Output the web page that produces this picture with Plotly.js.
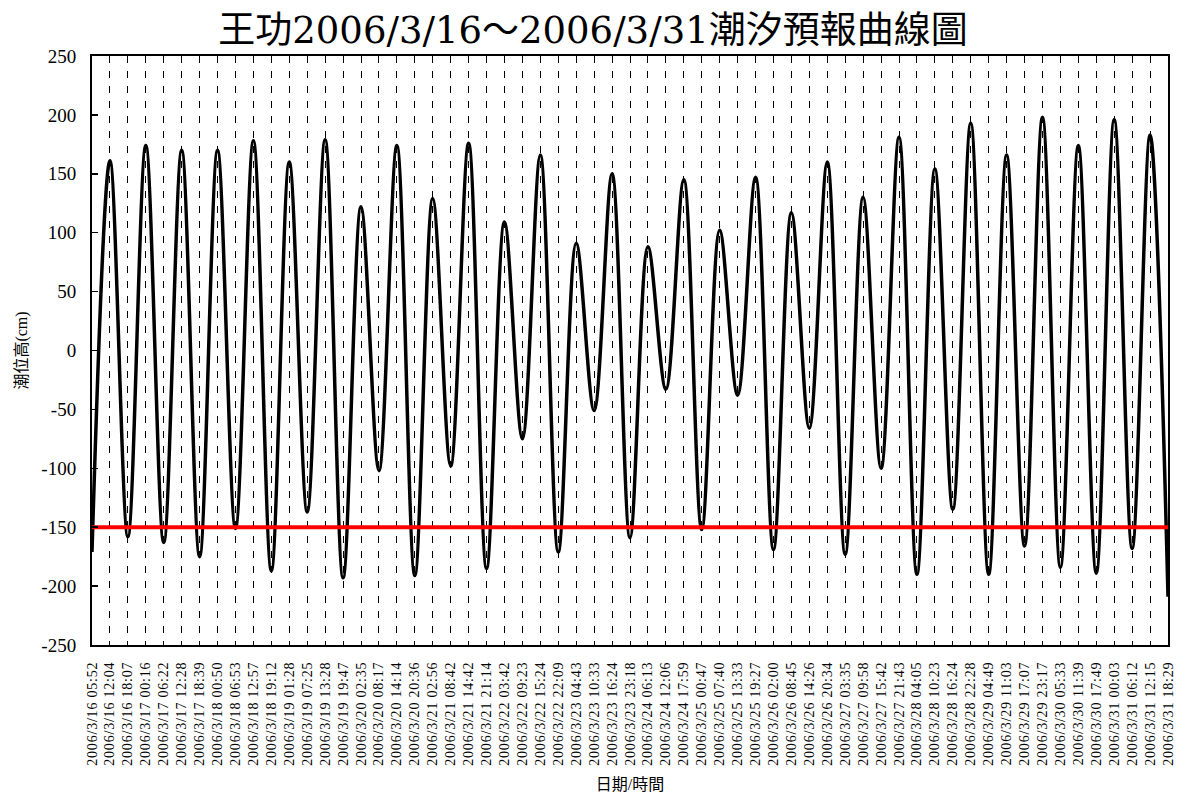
<!DOCTYPE html>
<html>
<head>
<meta charset="utf-8">
<script src="https://cdn.plot.ly/plotly-3.0.1.min.js"></script>
<style>
  html, body { margin: 0; padding: 0; background: #fff; }
  #chart { width: 1186px; height: 798px; }
  .xtick text { letter-spacing: 0.8px; }
</style>
</head>
<body>
<div id="chart"></div>
<script>
// Tide-table times (high / low water) used as the axis labels
const tickLabels = [
  "2006/3/16 05:52", "2006/3/16 12:04", "2006/3/16 18:07",
  "2006/3/17 00:16", "2006/3/17 06:22", "2006/3/17 12:28", "2006/3/17 18:39",
  "2006/3/18 00:50", "2006/3/18 06:53", "2006/3/18 12:57", "2006/3/18 19:12",
  "2006/3/19 01:28", "2006/3/19 07:25", "2006/3/19 13:28", "2006/3/19 19:47",
  "2006/3/20 02:35", "2006/3/20 08:17", "2006/3/20 14:14", "2006/3/20 20:36",
  "2006/3/21 02:56", "2006/3/21 08:42", "2006/3/21 14:42", "2006/3/21 21:14",
  "2006/3/22 03:42", "2006/3/22 09:23", "2006/3/22 15:24", "2006/3/22 22:09",
  "2006/3/23 04:43", "2006/3/23 10:33", "2006/3/23 16:24", "2006/3/23 23:18",
  "2006/3/24 06:13", "2006/3/24 12:06", "2006/3/24 17:59",
  "2006/3/25 00:47", "2006/3/25 07:40", "2006/3/25 13:33", "2006/3/25 19:27",
  "2006/3/26 02:00", "2006/3/26 08:45", "2006/3/26 14:26", "2006/3/26 20:34",
  "2006/3/27 03:35", "2006/3/27 09:58", "2006/3/27 15:42", "2006/3/27 21:43",
  "2006/3/28 04:05", "2006/3/28 10:23", "2006/3/28 16:24", "2006/3/28 22:28",
  "2006/3/29 04:49", "2006/3/29 11:03", "2006/3/29 17:07", "2006/3/29 23:17",
  "2006/3/30 05:33", "2006/3/30 11:39", "2006/3/30 17:49",
  "2006/3/31 00:03", "2006/3/31 06:12", "2006/3/31 12:15", "2006/3/31 18:29"
];

// Predicted tide level (cm): start of record, successive high/low waters, end of record
const tideLevels = [
  -171,
   161, -158,  174, -163,  170, -175,  170, -151,  178, -187,
   160, -137,  179, -193,  122, -102,  174, -191,  129,  -98,
   176, -185,  109,  -75,  166, -171,   91,  -51,  150, -159,
    88,  -33,  145, -152,  102,  -38,  147, -169,  117,  -66,
   160, -173,  130, -100,  181, -190,  154, -135,  193, -190,
   166, -166,  198, -184,  174, -189,  196, -168,  183,
  -209
];

// Warning level line (cm)
const alertLevel = -150;

// Level axis ticks (cm)
const levelTicks = [-250, -200, -150, -100, -50, 0, 50, 100, 150, 200, 250];

const tickPos = tickLabels.map((_, i) => i);
const tidePos = tideLevels.map((_, i) => i);
const lastPos = tickLabels.length - 1;

const serif = "'Liberation Serif', 'Times New Roman', Times, 'Noto Sans CJK TC', serif";
const titleFont = "'DejaVu Serif', 'Noto Sans CJK TC', serif";

const traces = [
  {
    type: "scatter",
    mode: "lines",
    x: tidePos,
    y: tideLevels,
    line: { color: "#000", width: 3.5, shape: "spline", smoothing: 1 },
    hoverinfo: "skip"
  },
  {
    type: "scatter",
    mode: "lines",
    x: [0, lastPos],
    y: [alertLevel, alertLevel],
    line: { color: "#ff0000", width: 4 },
    hoverinfo: "skip"
  }
];

const layout = {
  width: 1186,
  height: 798,
  paper_bgcolor: "#fff",
  plot_bgcolor: "#fff",
  showlegend: false,
  margin: { l: 92, r: 18, t: 56, b: 153 },
  title: {
    text: "王功2006/3/16～2006/3/31潮汐預報曲線圖",
    font: { family: titleFont, size: 37, color: "#000" },
    x: 0.5, xanchor: "center",
    y: 0.962, yanchor: "middle"
  },
  xaxis: {
    range: [0, lastPos],
    tickmode: "array",
    tickvals: tickPos,
    ticktext: tickLabels,
    tickangle: -90,
    tickfont: { family: serif, size: 14, color: "#000" },
    ticks: "",
    ticklabelstandoff: 9,
    showgrid: true,
    gridcolor: "#000",
    gridwidth: 1,
    griddash: "7px,8px",
    zeroline: false,
    showline: true,
    mirror: true,
    linecolor: "#000",
    linewidth: 2,
    automargin: false,
    title: {
      text: "日期/時間",
      font: { family: serif, size: 16, color: "#000" },
      standoff: 14
    }
  },
  yaxis: {
    range: [-250, 250],
    tickmode: "array",
    tickvals: levelTicks,
    ticktext: levelTicks.map(String),
    ticks: "inside",
    ticklen: 6,
    tickwidth: 1.5,
    tickcolor: "#000",
    tickfont: { family: serif, size: 19, color: "#000" },
    ticklabelstandoff: 10,
    showgrid: false,
    zeroline: false,
    showline: true,
    mirror: true,
    linecolor: "#000",
    linewidth: 2,
    automargin: false,
    title: {
      text: "潮位高(cm)",
      font: { family: serif, size: 16, color: "#000" },
      standoff: 10
    }
  }
};

Plotly.newPlot("chart", traces, layout, { displayModeBar: false, staticPlot: true });
</script>
</body>
</html>
